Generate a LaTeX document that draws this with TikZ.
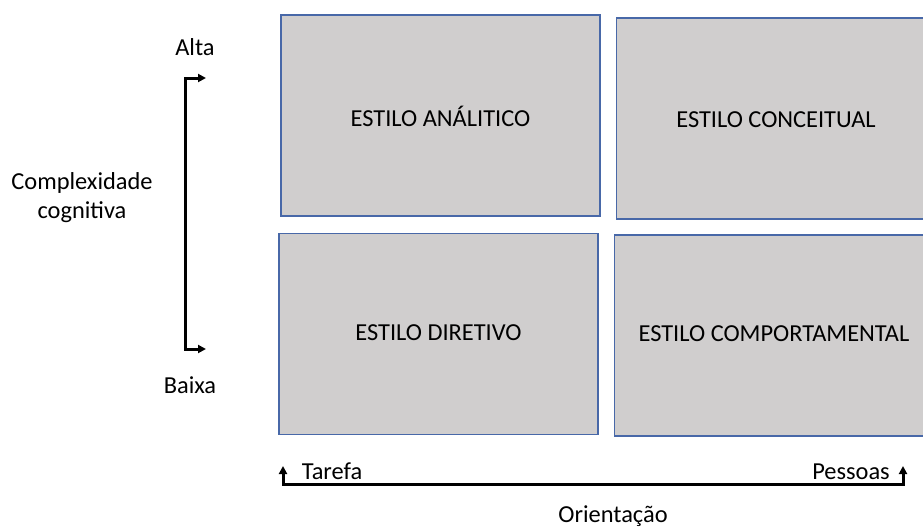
\documentclass[tikz,border=0pt]{standalone}
\usepackage{fontspec}
\setmainfont{Carlito}
\usetikzlibrary{arrows.meta}

\definecolor{fundo}{RGB}{208,206,206}
\definecolor{borda}{RGB}{72,104,168}

\tikzset{
  estilo/.style={draw=borda, line width=1.4pt, fill=fundo, minimum width=319pt, minimum height=201pt, inner sep=0pt},
  rotulo/.style={inner sep=0pt, font=\fontsize{24.4}{29}\selectfont},
  seta/.style={line width=3pt, {Triangle[length=8pt,width=8pt]}-{Triangle[length=8pt,width=8pt]}}
}

\begin{document}
\begin{tikzpicture}[x=1pt, y=-1pt]

      \useasboundingbox (0, 0) rectangle (923, 530);
      \clip (0, 0) rectangle (923, 530);

      % quadrantes
      \node[estilo] (analitico) at (440.5, 115.5) {};
      \node[estilo] (conceitual) at (776, 118.5) {};
      \node[estilo] (diretivo) at (438.5, 334) {};
      \node[estilo] (comportamental) at (774, 335.5) {};

      \node[rotulo] (tanalitico) at (440.5, 116) {ESTILO ANÁLITICO};
      \node[rotulo] (tconceitual) at (776, 120) {ESTILO CONCEITUAL};
      \node[rotulo] (tdiretivo) at (438.5, 333) {ESTILO DIRETIVO};
      \node[rotulo] (tcomportamental) at (774, 334) {ESTILO COMPORTAMENTAL};

      % eixo vertical
      \node[rotulo] (alta) at (195, 47) {Alta};
      \node[rotulo] (baixa) at (190, 385) {Baixa};
      \node[rotulo, align=center] (complexidade) at (82, 198) {Complexidade\\cognitiva};

      \coordinate (vtopo) at (185, 78);
      \coordinate (vtopoponta) at (206, 78);
      \coordinate (vbase) at (185, 349);
      \coordinate (vbaseponta) at (206, 349);
      \draw[seta] (vtopoponta) -- (vtopo) -- (vbase) -- (vbaseponta);

      % eixo horizontal
      \node[rotulo] (tarefa) at (332, 471) {Tarefa};
      \node[rotulo] (pessoas) at (851, 472) {Pessoas};
      \node[rotulo] (orientacao) at (613, 516) {Orientação};

      \coordinate (hesq) at (283, 484);
      \coordinate (hesqponta) at (283, 466);
      \coordinate (hdir) at (903, 484);
      \coordinate (hdirponta) at (903, 466);
      \draw[seta] (hesqponta) -- (hesq) -- (hdir) -- (hdirponta);

\end{tikzpicture}
\end{document}
